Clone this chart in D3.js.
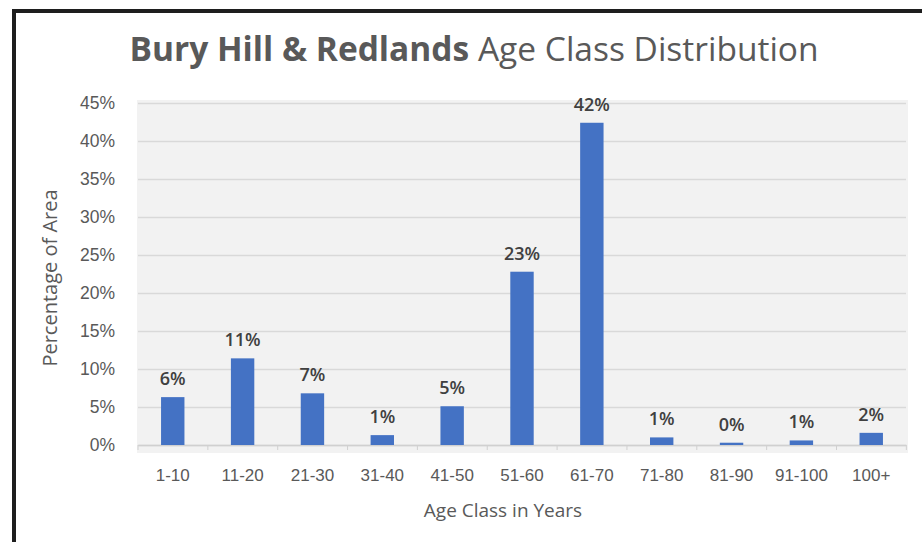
<!DOCTYPE html>
<html>
<head>
<meta charset="utf-8">
<script src="https://cdn.jsdelivr.net/npm/d3@7"></script>
<style>
  html, body { margin: 0; padding: 0; background: #fff; }
  svg { display: block; font-family: "Open Sans", "Lato", sans-serif; }
</style>
</head>
<body>
<svg id="chart" width="922" height="542"></svg>
<script>
// Age classes and share of area (%) in each
const ageClasses = ["1-10", "11-20", "21-30", "31-40", "41-50", "51-60", "61-70", "71-80", "81-90", "91-100", "100+"];
const areaShare = [6.3, 11.4, 6.8, 1.3, 5.1, 22.8, 42.4, 1.0, 0.3, 0.6, 1.6];
const yTicks = [0, 5, 10, 15, 20, 25, 30, 35, 40, 45];

const svg = d3.select("#chart");
const W = 922, H = 542;
const plot = { left: 138, right: 906, top: 103, bottom: 445 };

// frame edge
svg.append("rect")
  .attr("x", 14).attr("y", 11)
  .attr("width", W + 20).attr("height", H + 20)
  .attr("fill", "none").attr("stroke", "#1e1e1e").attr("stroke-width", 4);

// title: bold place name followed by regular text
const title = svg.append("text")
  .attr("x", 474).attr("y", 61)
  .attr("text-anchor", "middle")
  .attr("font-size", 33.5)
  .attr("fill", "#595959");
title.append("tspan").attr("font-weight", 700).text("Bury Hill & Redlands");
title.append("tspan").attr("font-weight", 400).text(" Age Class Distribution");

const x = d3.scaleBand()
  .domain(ageClasses)
  .range([plot.left, plot.right])
  .paddingInner(0.665)
  .paddingOuter(0.33);

const y = d3.scaleLinear()
  .domain([0, 45])
  .range([plot.bottom, plot.top]);

// plot area background
svg.append("rect")
  .attr("x", plot.left - 1).attr("y", plot.top - 3)
  .attr("width", plot.right - plot.left + 3)
  .attr("height", plot.bottom - plot.top + 11)
  .attr("fill", "#f2f2f2");

// horizontal gridlines and y labels
const yAxis = svg.append("g")
  .attr("transform", `translate(${plot.left},0)`)
  .call(d3.axisLeft(y)
    .tickValues(yTicks)
    .tickSize(-(plot.right - plot.left))
    .tickPadding(23)
    .tickFormat(d => d + "%"));
yAxis.select(".domain").remove();
yAxis.selectAll(".tick line").attr("stroke", "#d9d9d9").attr("stroke-width", 1.3);
yAxis.selectAll(".tick text")
  .attr("fill", "#595959")
  .attr("font-size", 17.5);

// x axis with category separators
const xAxis = svg.append("g")
  .attr("transform", `translate(0,${plot.bottom})`)
  .call(d3.axisBottom(x).tickSize(0).tickPadding(24));
xAxis.select(".domain").attr("stroke", "#d0d0d0").attr("stroke-width", 1.3);
xAxis.selectAll(".tick text")
  .attr("fill", "#595959")
  .attr("font-size", 17);
const step = x.step();
xAxis.selectAll(".sep")
  .data(d3.range(ageClasses.length + 1))
  .join("line")
  .attr("class", "sep")
  .attr("x1", i => plot.left + i * step)
  .attr("x2", i => plot.left + i * step)
  .attr("y1", 0).attr("y2", 5)
  .attr("stroke", "#d0d0d0");

// bars
const data = ageClasses.map((c, i) => ({ c, v: areaShare[i] }));
svg.append("g").selectAll("rect")
  .data(data)
  .join("rect")
  .attr("x", d => x(d.c))
  .attr("width", x.bandwidth())
  .attr("y", d => y(d.v))
  .attr("height", d => y(0) - y(d.v))
  .attr("fill", "#4472c4");

// value labels
svg.append("g").selectAll("text")
  .data(data)
  .join("text")
  .attr("x", d => x(d.c) + x.bandwidth() / 2)
  .attr("y", d => y(d.v) - 12)
  .attr("text-anchor", "middle")
  .attr("font-size", 18)
  .attr("font-weight", 600)
  .attr("fill", "#404040")
  .text(d => Math.round(d.v) + "%");

// axis titles
svg.append("text")
  .attr("x", 503)
  .attr("y", 517)
  .attr("text-anchor", "middle")
  .attr("font-size", 19)
  .attr("fill", "#595959")
  .text("Age Class in Years");

svg.append("text")
  .attr("transform", `translate(57,${278}) rotate(-90)`)
  .attr("text-anchor", "middle")
  .attr("font-size", 20)
  .attr("fill", "#595959")
  .text("Percentage of Area");
</script>
</body>
</html>
